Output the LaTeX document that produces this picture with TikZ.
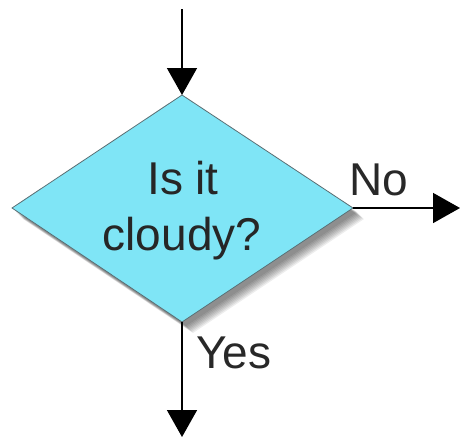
\documentclass[tikz,border=0pt]{standalone}
\usepackage{fontspec}
\setmainfont{Liberation Sans}
\usetikzlibrary{arrows.meta}
\definecolor{diafill}{RGB}{127,229,246}
\definecolor{diaedge}{RGB}{90,110,115}
\definecolor{txt}{RGB}{40,40,40}
\tikzset{
  flow/.style={line width=1.6pt, black, -{Triangle[width=30pt,length=27pt]}},
  lbl/.style={inner sep=0pt, text=txt, font=\fontsize{46}{56}\selectfont},
  qtext/.style={inner sep=0pt, text=black!85, font=\fontsize{46}{56}\selectfont},
  dia/.style={fill=diafill, draw=diaedge, line width=0.8pt, line join=miter}
}
\begin{document}
\begin{tikzpicture}[x=1pt,y=-1pt]
\useasboundingbox (0,0) rectangle (460,437);
\coordinate (T) at (182,95);
\coordinate (B) at (182,322);
\coordinate (L) at (12,208);
\coordinate (R) at (353,208);
\coordinate (start) at (182,9);
\coordinate (noend) at (460,208);
\coordinate (yesend) at (182,437);
% shadow
\foreach \d in {4,5,...,11}{
  \fill[black, opacity=0.07] ([shift={(\d,\d)}]T) -- ([shift={(\d,\d)}]R) -- ([shift={(\d,\d)}]B) -- ([shift={(\d,\d)}]L) -- cycle;
}
\path[dia] (T) -- (R) -- (B) -- (L) -- cycle;
\node[qtext, anchor=base] (q1) at (183,194) {Is it};
\node[qtext, anchor=base] (q2) at (182,250) {cloudy?};
\draw[flow] (start) -- (T);
\draw[flow] (R) -- (noend);
\draw[flow] (B) -- (yesend);
\node[lbl, anchor=base west] (no) at (349,195) {No};
\node[lbl, anchor=base west] (yes) at (196,368) {Yes};
\end{tikzpicture}
\end{document}
